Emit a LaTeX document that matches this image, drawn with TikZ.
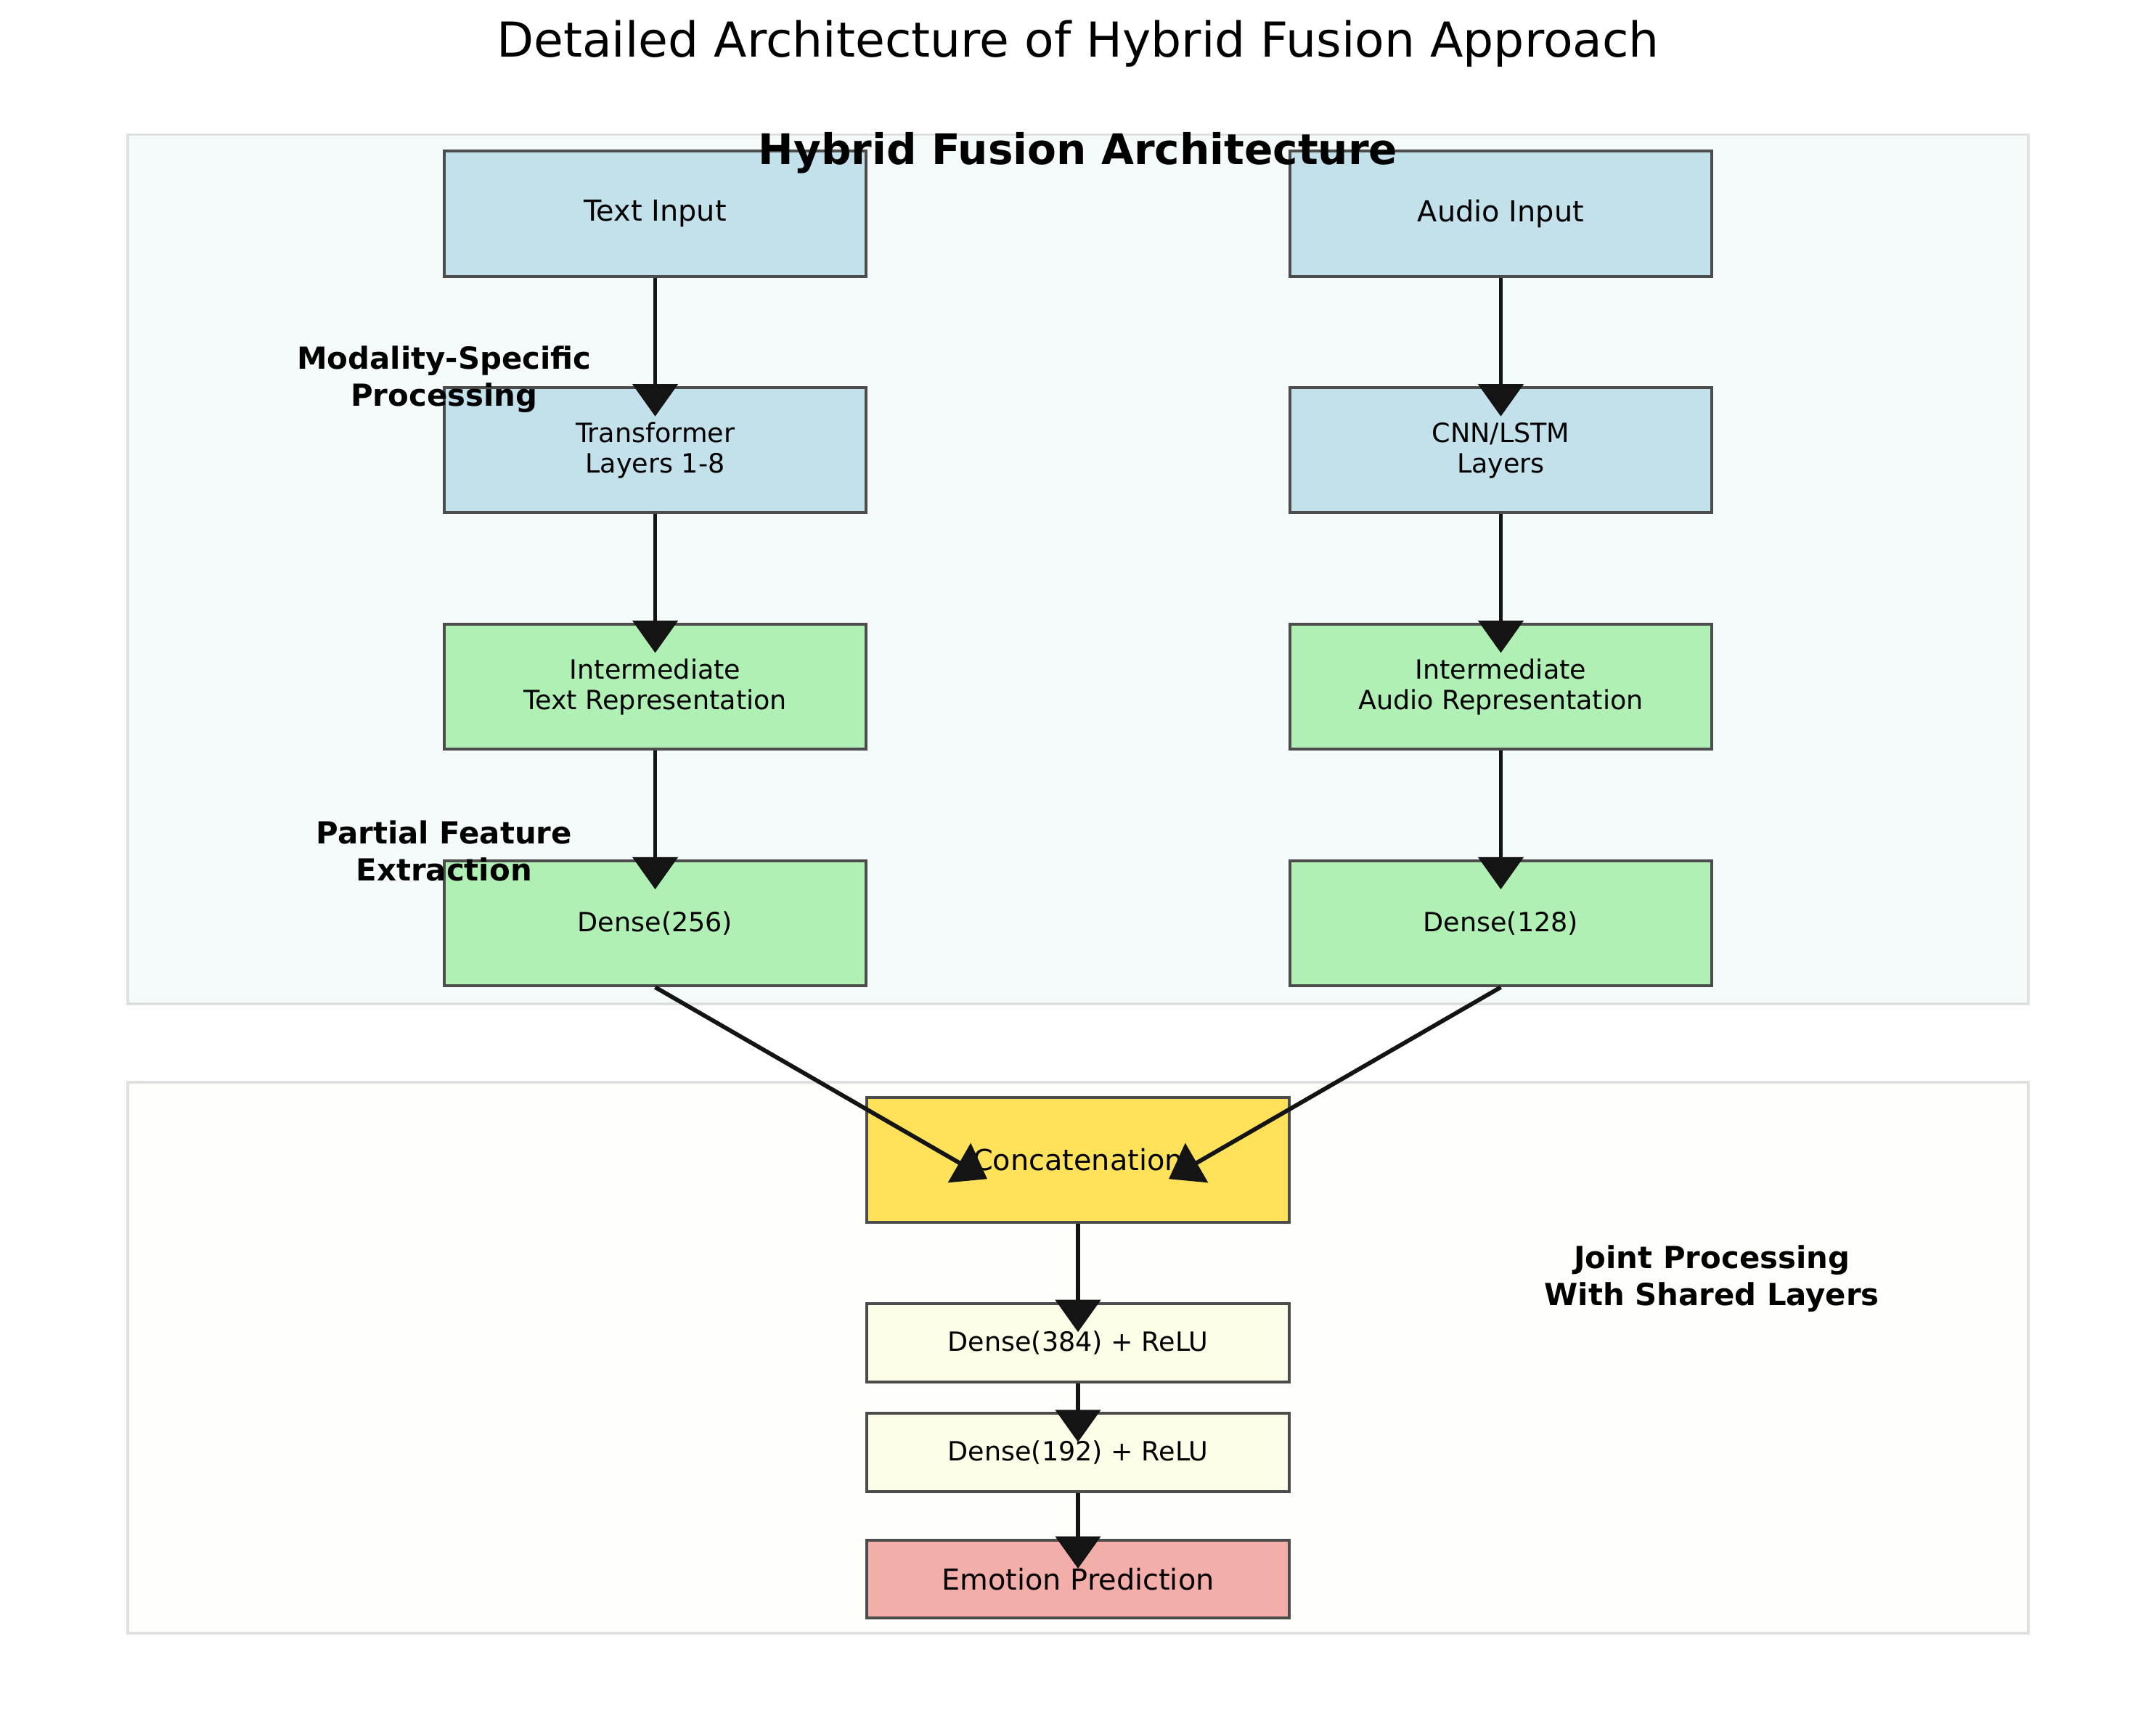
\documentclass[tikz,border=0pt]{standalone}
\usepackage{fontspec}
\setmainfont{DejaVu Sans}
\usetikzlibrary{arrows.meta}

\definecolor{inblue}{HTML}{C2E1EB}
\definecolor{repgreen}{HTML}{B0F0B4}
\definecolor{catgold}{HTML}{FFE15A}
\definecolor{joinivory}{HTML}{FEFEE8}
\definecolor{outcoral}{HTML}{F4AEAA}
\definecolor{boxline}{HTML}{4C4C4C}
\definecolor{arrowink}{HTML}{141414}
\definecolor{toppanel}{HTML}{F5FAFB}
\definecolor{lowpanel}{HTML}{FEFEFA}
\definecolor{panelline}{HTML}{DFE1E1}

\begin{document}
\begin{tikzpicture}[x=0.5706pt,y=-0.5706pt,>={Triangle[length=13.4pt,width=18.6pt]},
  layer node/.style={rectangle,draw=boxline,line width=1.2pt,inner sep=0pt,align=center,minimum width=175.2pt,minimum height=51.9pt,font=\fontsize{11}{12.6}\selectfont},
  input node/.style={layer node,fill=inblue,font=\fontsize{12}{14}\selectfont},
  rep node/.style={layer node,fill=repgreen},
  shared node/.style={layer node,fill=joinivory,minimum height=32.5pt},
  stage label/.style={align=center,font=\fontsize{12.6}{15.2}\selectfont\bfseries}]

  \useasboundingbox (0,0) rectangle (1568,1251.3);

  % panels
  \draw[fill=toppanel,draw=panelline,line width=1.1pt] (93,98) rectangle (1475,730);
  \draw[fill=lowpanel,draw=panelline,line width=1.1pt] (93,787) rectangle (1475,1188);

  \node (title) at (784,32) {\fontsize{20}{24}\selectfont Detailed Architecture of Hybrid Fusion Approach};

  \node[input node] (text) at (476.5,155.5) {Text Input};
  \node[input node] (audio) at (1091.5,155.5) {Audio Input};
  \node[layer node,fill=inblue] (trans) at (476.5,327.5) {Transformer\\Layers 1-8};
  \node[layer node,fill=inblue] (cnn) at (1091.5,327.5) {CNN/LSTM\\Layers};
  \node[rep node] (irep) at (476.5,499.5) {Intermediate\\Text Representation};
  \node[rep node] (arep) at (1091.5,499.5) {Intermediate\\Audio Representation};
  \node[rep node] (d256) at (476.5,671.5) {Dense(256)};
  \node[rep node] (d128) at (1091.5,671.5) {Dense(128)};

  \node[layer node,fill=catgold,font=\fontsize{12}{14}\selectfont] (concat) at (784,843.5) {Concatenation};
  \node[shared node] (d384) at (784,976.5) {Dense(384) + ReLU};
  \node[shared node] (d192) at (784,1056.5) {Dense(192) + ReLU};
  \node[shared node,fill=outcoral,font=\fontsize{12}{14}\selectfont] (emo) at (784,1148.5) {Emotion Prediction};

  \coordinate (catL) at ([shift={(-66,14)}]concat.center);
  \coordinate (catR) at ([shift={(66,14)}]concat.center);

  \node[font=\fontsize{17.5}{20}\selectfont\bfseries] (arch) at (784,111) {Hybrid Fusion Architecture};
  \node[stage label] (modal) at (323,276) {Modality-Specific\\Processing};
  \node[stage label] (partial) at (323,619) {Partial Feature\\Extraction};
  \node[stage label] (joint) at (1245,930) {Joint Processing\\With Shared Layers};

  \path[->,color=arrowink,line width=1.75pt,shorten >=-12.5pt]
       (text) edge (trans)
       (trans) edge (irep)
       (irep) edge (d256)
       (audio) edge (cnn)
       (cnn) edge (arep)
       (arep) edge (d128)
       (concat) edge (d384)
       (d384) edge (d192)
       (d192) edge (emo);

  \path[->,color=arrowink,line width=1.75pt]
       (d256.south) edge (catL)
       (d128.south) edge (catR);
\end{tikzpicture}
\end{document}
